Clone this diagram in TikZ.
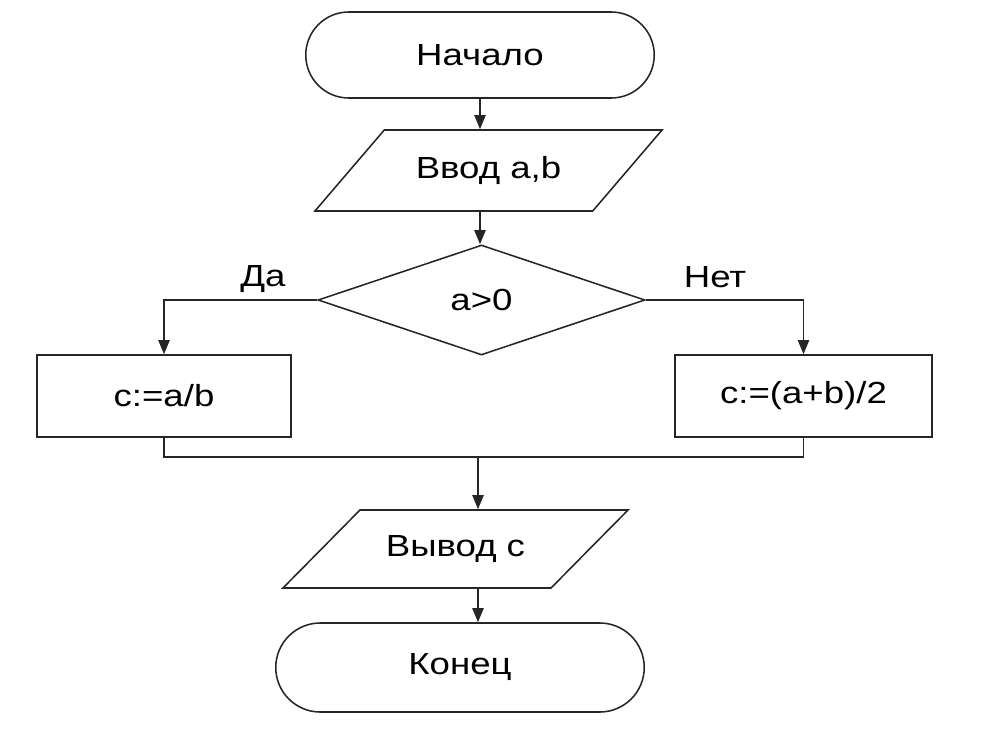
\documentclass[tikz,border=0pt]{standalone}
\usepackage{fontspec}
\setmainfont{Liberation Sans}[FakeStretch=1.2]
\usetikzlibrary{shapes.geometric,shapes.misc,arrows.meta}

\begin{document}
\begin{tikzpicture}[x=0.025cm, y=-0.025cm,
  font=\fontsize{21.7}{26}\selectfont,
  every node/.style={inner sep=2pt},
  terminal/.style={draw, rounded rectangle, minimum width=8.85cm, minimum height=2.15cm},
  io/.style={draw, trapezium, trapezium stretches body, trapezium left angle=26, trapezium right angle=154, minimum width=8.675cm, minimum height=2.025cm},
  decision/.style={draw, diamond, minimum width=8.175cm, minimum height=2.75cm, inner sep=0pt},
  action/.style={draw, rectangle, minimum width=6.4cm, minimum height=2.05cm},
  arrow/.style={-{Triangle[length=0.35cm, width=0.28cm]}},
  line width=1.1pt, draw=black!85
]
\useasboundingbox (0,0) rectangle (1000,749);

% Blocks
\node[terminal] (start) at (480, 55) {Начало};
\node[io] (input) at (488.5, 170.5) {Ввод a,b};
\node[decision] (check) at (481.5, 300) {a>0};
\node[action, minimum width=6.35cm] (yes) at (164, 396) {c:=a/b};
\node[action, minimum width=6.425cm] (no) at (803.5, 396) {c:=(a+b)/2};
\node[io, trapezium left angle=23, trapezium right angle=157, minimum width=8.625cm, minimum height=1.95cm] (output) at (455.5, 549) {Вывод c};
\node[terminal, minimum width=9.35cm, minimum height=2.225cm] (stop) at (460, 667.5) {Конец};

% Branch labels
\node (yeslabel) at (263, 279) {Да};
\node (nolabel) at (715, 277) {Нет};

\coordinate (join) at (478, 457);

% Arrows
\draw[arrow] (start) -- (start |- input.north);
\draw[arrow] (start |- input.south) -- (start |- check.north);
\draw[arrow] (check.west) -| (yes.north);
\draw[arrow] (check.east) -| (no.north);
\draw (yes.south) |- (join) -| (no.south);
\draw[arrow] (join) -- (join |- output.north);
\draw[arrow] (join |- output.south) -- (join |- stop.north);

\end{tikzpicture}
\end{document}
